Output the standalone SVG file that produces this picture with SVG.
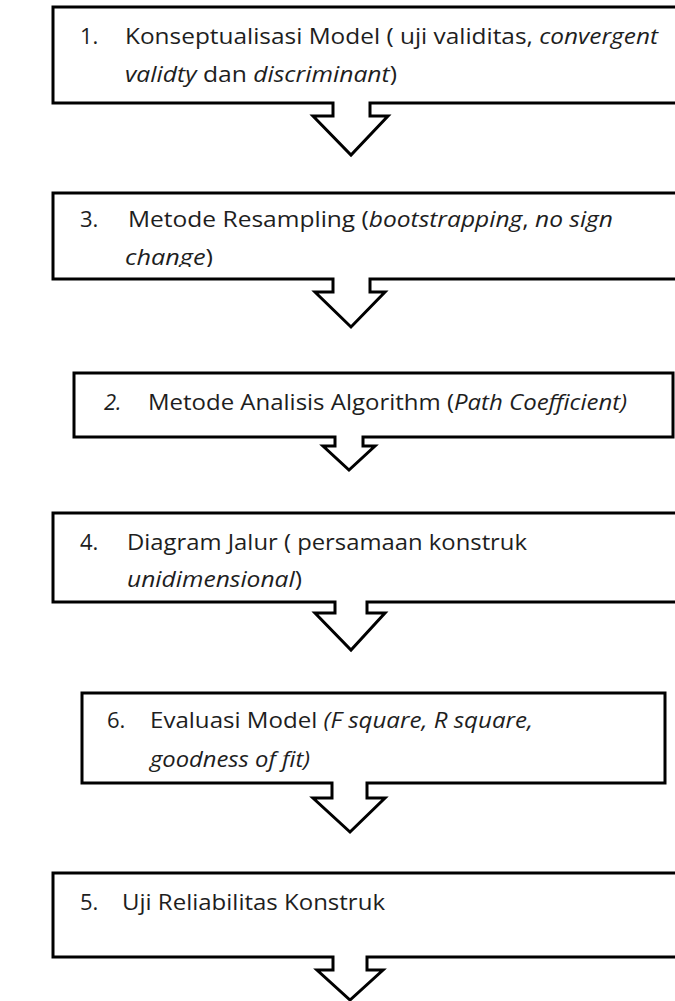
<svg xmlns="http://www.w3.org/2000/svg" width="675" height="1001" viewBox="0 0 675 1001">
<style>
.shape{fill:#fff;stroke:#000;stroke-width:3;stroke-linejoin:miter}
.t{font-family:"Open Sans",Lato,"Liberation Sans",sans-serif;font-size:22px;fill:#1e1e1e}
.i{font-style:italic}
</style>
<defs>
<clipPath id="c2"><rect x="55" y="195" width="620" height="72"/></clipPath>
<clipPath id="c4"><rect x="55" y="515" width="620" height="76"/></clipPath>
</defs>
<rect width="675" height="1001" fill="#fff"/>
<g id="connectors"></g>
<g id="node1">
<path class="shape" d="M53,7 H680 V103 H370 V116 H388 L351,155 L313,116 H333 V103 H53 Z"/>
<text class="t" x="80" y="44">1.</text>
<text class="t" x="125" y="44" textLength="533" lengthAdjust="spacingAndGlyphs">Konseptualisasi Model ( uji validitas, <tspan class="i">convergent</tspan></text>
<text class="t" x="125" y="82" textLength="272" lengthAdjust="spacingAndGlyphs"><tspan class="i">validty</tspan> dan <tspan class="i">discriminant</tspan>)</text>
</g>
<g id="node2">
<path class="shape" d="M53,193 H680 V279 H370 V292 H385 L351,327 L315,292 H333 V279 H53 Z"/>
<text class="t" x="80" y="227">3.</text>
<text class="t" x="128" y="227" textLength="485" lengthAdjust="spacingAndGlyphs">Metode Resampling (<tspan class="i">bootstrapping</tspan>, <tspan class="i">no sign</tspan></text>
<text class="t" x="125" y="265" clip-path="url(#c2)" textLength="88" lengthAdjust="spacingAndGlyphs"><tspan class="i">change</tspan>)</text>
</g>
<g id="node3">
<path class="shape" d="M74,373 H673 V437 H363 V446 H375 L349,470 L323,446 H335 V437 H74 Z"/>
<text class="t i" x="104" y="410">2.</text>
<text class="t" x="148" y="410" textLength="479" lengthAdjust="spacingAndGlyphs">Metode Analisis Algorithm (<tspan class="i">Path Coefficient)</tspan></text>
</g>
<g id="node4">
<path class="shape" d="M53,513 H680 V602 H367 V613 H385 L351,650 L315,613 H335 V602 H53 Z"/>
<text class="t" x="80" y="550">4.</text>
<text class="t" x="127" y="550" textLength="400" lengthAdjust="spacingAndGlyphs">Diagram Jalur ( persamaan konstruk</text>
<text class="t" x="127" y="587" clip-path="url(#c4)" textLength="175" lengthAdjust="spacingAndGlyphs"><tspan class="i">unidimensional</tspan>)</text>
</g>
<g id="node5">
<path class="shape" d="M82,693 H665 V783 H367 V798 H385 L350,832 L313,798 H332 V783 H82 Z"/>
<text class="t" x="107" y="728">6.</text>
<text class="t" x="150" y="728" textLength="383" lengthAdjust="spacingAndGlyphs">Evaluasi Model <tspan class="i">(F square, R square,</tspan></text>
<text class="t i" x="150" y="767" textLength="160" lengthAdjust="spacingAndGlyphs">goodness of fit)</text>
</g>
<g id="node6">
<path class="shape" d="M53,873 H680 V957 H367 V970 H383 L350,1000 L317,970 H333 V957 H53 Z"/>
<text class="t" x="80" y="910">5.</text>
<text class="t" x="122" y="910" textLength="263" lengthAdjust="spacingAndGlyphs">Uji Reliabilitas Konstruk</text>
</g>
</svg>
